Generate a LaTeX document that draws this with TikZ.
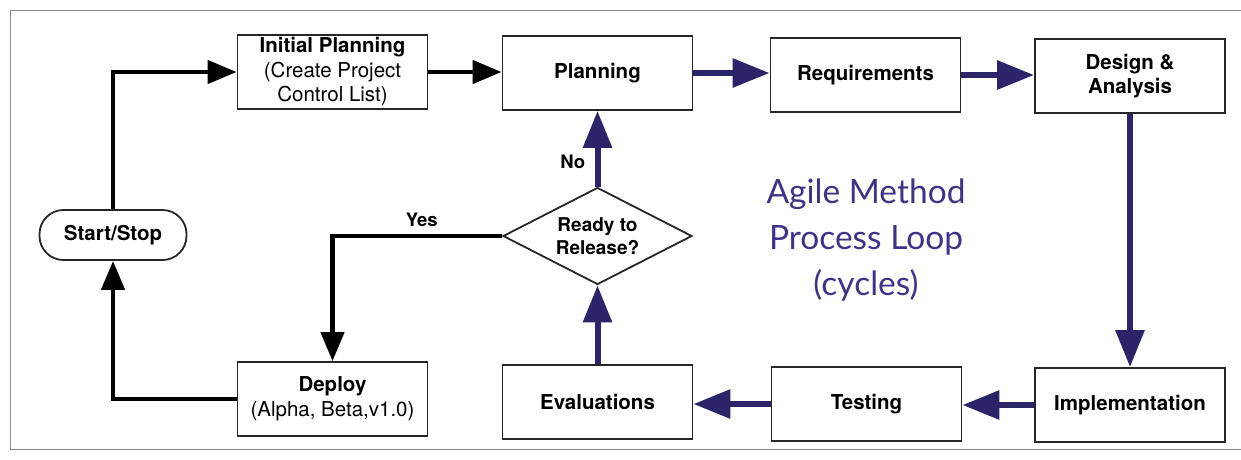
\documentclass[tikz,border=0pt]{standalone}
\usepackage{fontspec}
\setmainfont{TeX Gyre Heros}
\newfontfamily\agilefont{Lato}
\usetikzlibrary{arrows.meta,shapes.geometric}
\definecolor{navy}{HTML}{2B2468}
\definecolor{agilec}{HTML}{3D3487}
\definecolor{framec}{HTML}{8C8890}
\tikzset{
 box/.style={draw=black!85,line width=1.8pt,minimum width=190pt,minimum height=74pt,align=center,
   font=\bfseries\fontsize{20.5}{24.5}\selectfont,inner sep=0pt},
 decision/.style={diamond,draw=black!85,line width=1.8pt,minimum width=189pt,minimum height=97pt,aspect=1.95,
   align=center,inner sep=0pt,font=\bfseries\fontsize{19}{23}\selectfont},
 terminal/.style={draw=black!85,line width=1.8pt,rounded corners=24pt,minimum width=147pt,minimum height=50pt,
   inner sep=0pt,font=\bfseries\fontsize{20.5}{24}\selectfont},
 navyarrow/.style={draw=navy,line width=6pt,-{Triangle[length=37pt,width=28pt]}},
 blackarrow/.style={draw=black,line width=4.5pt,-{Triangle[length=29pt,width=23pt]}},
 lbl/.style={font=\bfseries\fontsize{18.5}{20}\selectfont},
 agile/.style={text=agilec,align=center,font=\agilefont\fontsize{33.5}{46}\selectfont}
}
\begin{document}
\begin{tikzpicture}[x=1pt,y=-1pt]
\useasboundingbox (0,0) rectangle (1241,459);
\draw[framec,line width=1pt] (1241,10) -- (10,10) -- (10,449) -- (1241,449);

\node[box] (ip) at (332.5,72) {Initial Planning\\\mdseries(Create Project\\\mdseries Control List)};
\node[box] (pl) at (597.5,73) {Planning};
\node[box] (rq) at (865.5,75) {Requirements};
\node[box] (da) at (1130,76) {Design \&\\Analysis};
\node[box] (dp) at (332.5,399) {Deploy\\\mdseries(Alpha, Beta,v1.0)};
\node[box] (ev) at (597.5,402) {Evaluations};
\node[box] (ts) at (866.5,404) {Testing};
\node[box] (im) at (1130,405) {Implementation};
\node[terminal] (ss) at (113,235) {Start/Stop};
\node[decision] (rd) at (597.5,236) {Ready to\\Release?};
\node[agile] (ag) at (866,240) {Agile Method\\Process Loop\\(cycles)};

\draw[blackarrow] (ss.north) |- (ip.west);
\draw[blackarrow] (ip.east) -- (ip.east -| pl.west);
\draw[navyarrow] (pl.east) -- (pl.east -| rq.west);
\draw[navyarrow] (rq.east) -- (rq.east -| da.west);
\draw[navyarrow] (da.south) -- (im.north);
\draw[navyarrow] (im.west) -- (im.west -| ts.east);
\draw[navyarrow] (ts.west) -- (ts.west -| ev.east);
\draw[navyarrow] (ev.north) -- (rd.south);
\draw[navyarrow] (rd.north) -- node[lbl,left=6pt,pos=0.33] (no) {No} (pl.south);
\draw[blackarrow] (rd.west) -| node[lbl,above=4pt,pos=0.237] (yes) {Yes} (dp.north);
\draw[blackarrow] (dp.west) -| (ss.south);
\end{tikzpicture}
\end{document}
